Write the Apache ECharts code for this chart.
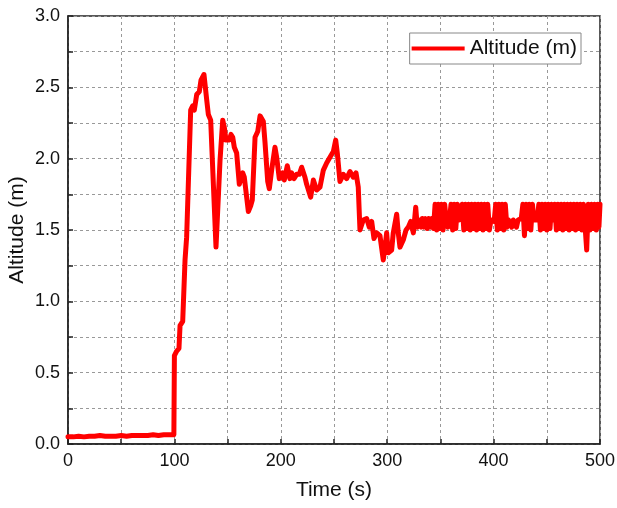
<!DOCTYPE html>
<html>
<head>
<meta charset="utf-8">
<script src="https://cdn.jsdelivr.net/npm/echarts@6/dist/echarts.min.js"></script>
<style>
  html, body { margin: 0; padding: 0; background: #fff; }
  #main { width: 617px; height: 508px; }
</style>
</head>
<body>
<div id="main"></div>
<script>
// 数据 [time (s), altitude (m)]
var ground = [
  [0, 0.05], [5, 0.05], [10, 0.055], [15, 0.05], [20, 0.055], [25, 0.055], [30, 0.06],
  [35, 0.055], [40, 0.055], [45, 0.055], [50, 0.06], [55, 0.055], [60, 0.06], [65, 0.06],
  [70, 0.06], [75, 0.06], [80, 0.065], [85, 0.06], [90, 0.065], [95, 0.065], [99.5, 0.065]
];
var climb = [
  [100, 0.62], [102, 0.65], [104.3, 0.67], [105.3, 0.83], [107.8, 0.86], [110, 1.29],
  [111.5, 1.45], [115.3, 2.34], [117.2, 2.37], [118.7, 2.34], [121, 2.45], [123.4, 2.47],
  [125, 2.55], [127.8, 2.59], [130.4, 2.41], [131.9, 2.31], [134.1, 2.27], [139.1, 1.38],
  [140.3, 1.37], [142.9, 1.99], [145.4, 2.27], [146.9, 2.22], [148.5, 2.13], [151.6, 2.13],
  [153.2, 2.17], [154.8, 2.15], [156.3, 2.08], [158.5, 2.04], [161, 1.82], [162.3, 1.83],
  [164.2, 1.90], [165.7, 1.87], [169.5, 1.63], [171.7, 1.67], [173.2, 1.71], [175.8, 2.15],
  [178.3, 2.19], [180.5, 2.30], [183.6, 2.26], [185.2, 2.11], [187.7, 1.84], [189.2, 1.79],
  [191.4, 1.92], [194.5, 2.08], [196.1, 2.01], [198.6, 1.86], [201.8, 1.90], [203.3, 1.85],
  [206.1, 1.95], [208.6, 1.86], [210.2, 1.90], [212.4, 1.86], [214.9, 1.89], [217.4, 1.89],
  [219.6, 1.94], [222.7, 1.87], [224.3, 1.82], [228.1, 1.73], [230.6, 1.85], [233.7, 1.78],
  [236.8, 1.80], [240, 1.92], [243.1, 1.97], [246.2, 2.01], [249.4, 2.05], [251.6, 2.13],
  [253.1, 2.04], [255.6, 1.84], [258.7, 1.89], [261.9, 1.86], [265, 1.91], [268.1, 1.87],
  [270.7, 1.90], [272.8, 1.80], [274.4, 1.50], [277.5, 1.57], [280.7, 1.58], [283.2, 1.52],
  [285.4, 1.56], [287.6, 1.44], [290.1, 1.48], [293.2, 1.46], [296.3, 1.29], [297.9, 1.38],
  [299.5, 1.48], [301, 1.34], [304.2, 1.36], [305.7, 1.48], [308.9, 1.61], [310.4, 1.48],
  [312, 1.38], [315.1, 1.43], [317.7, 1.50], [319.8, 1.52], [322.1, 1.56], [324.6, 1.48],
  [326.8, 1.66], [328.3, 1.52], [330.8, 1.57], [332, 1.52], [333, 1.58], [334.5, 1.52],
  [336, 1.58], [337.5, 1.51], [339, 1.58], [340.5, 1.52], [342, 1.58], [343.5, 1.51]
];
var hover = [
  [345, 1.68], [346.5, 1.50], [348, 1.68], [349.5, 1.51], [351, 1.68], [352.5, 1.50],
  [354, 1.68], [355.5, 1.57], [357, 1.52], [358.5, 1.57], [360, 1.68], [361.5, 1.50],
  [363, 1.68], [364.5, 1.51], [366, 1.68], [367.5, 1.57], [369, 1.58], [370.5, 1.68],
  [372, 1.50], [373.5, 1.68], [375, 1.51], [376.5, 1.68], [378, 1.50], [379.5, 1.68],
  [381, 1.51], [382.5, 1.68], [384, 1.50], [385.5, 1.68], [387, 1.51], [388.5, 1.68],
  [390, 1.50], [391.5, 1.68], [393, 1.51], [394.5, 1.68], [396, 1.50], [397.5, 1.57],
  [399, 1.58], [400.5, 1.56], [402, 1.68], [403.5, 1.50], [405, 1.68], [406.5, 1.51],
  [408, 1.68], [409.5, 1.50], [411, 1.68], [412.5, 1.52], [414, 1.57], [415.5, 1.58],
  [417, 1.52], [418.5, 1.57], [420, 1.58], [421.5, 1.52], [423, 1.57], [424.5, 1.56],
  [426, 1.58], [427.5, 1.68], [429, 1.46], [430.5, 1.68], [432, 1.51], [433.5, 1.68],
  [435, 1.50], [436.5, 1.68], [438, 1.57], [439.5, 1.58], [441, 1.57], [442.5, 1.68],
  [444, 1.50], [445.5, 1.68], [447, 1.51], [448.5, 1.68], [450, 1.50], [451.5, 1.68],
  [453, 1.51], [454.5, 1.68], [456, 1.57], [457.5, 1.68], [459, 1.50], [460.5, 1.68],
  [462, 1.51], [463.5, 1.68], [465, 1.50], [466.5, 1.68], [468, 1.51], [469.5, 1.68],
  [471, 1.50], [472.5, 1.68], [474, 1.51], [475.5, 1.68], [477, 1.50], [478.5, 1.68],
  [480, 1.51], [481.5, 1.68], [483, 1.50], [484.5, 1.68], [486, 1.52], [487.5, 1.36],
  [489, 1.68], [490.5, 1.50], [492, 1.68], [493.5, 1.51], [495, 1.68], [496.5, 1.50],
  [498, 1.68], [499, 1.52], [500, 1.68]
];
var seriesName = 'Altitude (m)';

var chart = echarts.init(document.getElementById('main'));
var font = 'Liberation Sans, Arial, sans-serif';
var gridLine = { show: true, lineStyle: { color: '#999', type: [3, 3], width: 1 } };

var option = {
  animation: false,
  backgroundColor: '#fff',
  grid: {
    left: 68, right: 17, top: 16, bottom: 64,
    outerBoundsMode: 'none', containLabel: false,
    show: true, borderColor: '#222', borderWidth: 1.5
  },
  legend: {
    data: [{ name: seriesName, icon: 'rect' }],
    right: 36, top: 33,
    itemWidth: 53, itemHeight: 4, itemGap: 5,
    padding: [5, 4, 5, 2],
    borderColor: '#888', borderWidth: 1,
    backgroundColor: '#fff',
    textStyle: { fontFamily: font, fontSize: 21, color: '#111' }
  },
  xAxis: {
    type: 'value', min: 0, max: 500, interval: 50,
    name: 'Time (s)', nameLocation: 'middle', nameGap: 36, nameMoveOverlap: false,
    nameTextStyle: { fontFamily: font, fontSize: 21, color: '#111' },
    axisLine: { lineStyle: { color: '#222', width: 1.5 } },
    axisTick: { inside: true, length: 5, lineStyle: { color: '#222', width: 1.5 } },
    axisLabel: {
      fontFamily: font, fontSize: 18, color: '#111', margin: 8,
      formatter: function (v) { return v % 100 === 0 ? String(v) : ''; }
    },
    splitLine: gridLine
  },
  yAxis: {
    type: 'value', min: 0, max: 3, interval: 0.25,
    name: 'Altitude (m)', nameLocation: 'middle', nameGap: 40, nameMoveOverlap: false,
    nameTextStyle: { fontFamily: font, fontSize: 21, color: '#111' },
    axisLine: { show: true, lineStyle: { color: '#222', width: 1.5 } },
    axisTick: { show: true, inside: true, length: 5, lineStyle: { color: '#222', width: 1.5 } },
    axisLabel: {
      fontFamily: font, fontSize: 18, color: '#111', margin: 8,
      formatter: function (v) { return Math.abs(v * 2 - Math.round(v * 2)) < 1e-6 ? v.toFixed(1) : ''; }
    },
    splitLine: gridLine
  },
  series: [{
    name: seriesName,
    type: 'line',
    showSymbol: false,
    color: '#ff0000',
    lineStyle: { width: 5, color: '#ff0000', join: 'round', cap: 'round' },
    data: ground.concat(climb, hover)
  }]
};
chart.setOption(option);
</script>
</body>
</html>
